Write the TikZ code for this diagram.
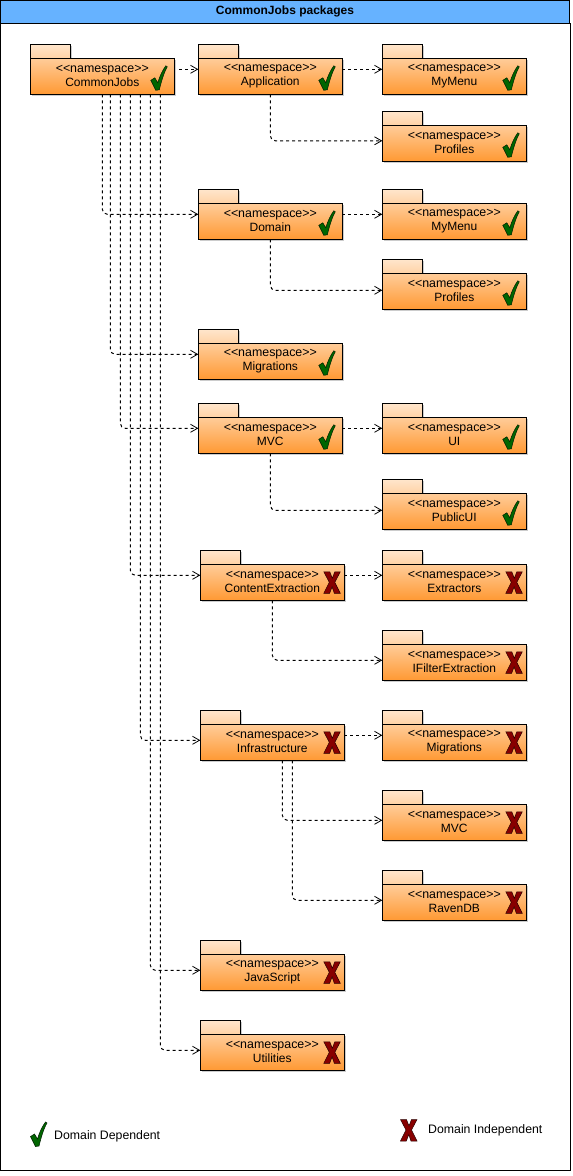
\documentclass[tikz,border=0pt]{standalone}
\usepackage{fontspec}
\setmainfont{Liberation Sans}
\usetikzlibrary{arrows.meta,shadows,calc}

\definecolor{titleblue}{HTML}{66B2FF}
\definecolor{okgreen}{HTML}{006600}
\definecolor{nored}{HTML}{880000}

\tikzset{
    pkgshadow/.style={general shadow={shadow xshift=2pt,shadow yshift=-2pt,fill=black!20}},
    pkgtab/.style={draw,line width=1pt,outer sep=0pt,inner sep=0pt,minimum width=40pt,minimum height=14pt,
        top color=orange!20!white,bottom color=orange!35!white,pkgshadow},
    pkgbody/.style={draw,line width=1pt,outer sep=0pt,inner sep=0pt,minimum width=144pt,minimum height=36pt,
        top color=orange!40!white,bottom color=orange!80!white,align=center,font=\fontsize{12}{14}\selectfont,pkgshadow},
    dep/.style={line width=1pt,dash pattern=on 3pt off 3pt,rounded corners=5pt,-{Straight Barb[length=7pt,width=8pt,line width=.8pt]}},
    okmark/.pic={\fill[okgreen,draw=black!70!okgreen,line width=.5pt] (0,14.5) -- (4,12) -- (7,17) .. controls (9,10) and (12,4) .. (15,0) -- (16.5,1) .. controls (13,7) and (10.5,16) .. (8.5,24) -- (5,24.5) -- cycle;},
    nomark/.pic={\fill[nored,draw=black!70!nored,line width=.5pt] (0,0) -- (6,0) -- (8.5,6.5) -- (11,0) -- (16.5,0) -- (11,10.5) -- (16.5,21.5) -- (10.5,21.5) -- (8.3,15) -- (5.8,21.5) -- (0,21.5) -- (5.5,10.5) -- cycle;},
}

\begin{document}
\begin{tikzpicture}[x=1pt,y=-1pt]
    \useasboundingbox (0,0) rectangle (573,1176);

    % frame and title bar
    \node[minimum width=569pt,minimum height=22.5pt,inner sep=0pt,outer sep=0pt,draw,line width=1pt,fill=titleblue,
        font=\bfseries\fontsize{12}{14}\selectfont,anchor=north west] (title) at (0.5,0.5) {CommonJobs packages};
    \coordinate (framecorner) at (570,1170);
    \draw[line width=1pt] (title.south west) |- (framecorner) |- (title.south east);

    % packages: name/left/top/label/mark/x of mark
    \foreach \n/\x/\y/\l/\m/\d in {
        common/30/44/CommonJobs/okmark/120.5,
        app/198/44/Application/okmark/120.5,
        appmenu/382/44/MyMenu/okmark/120.5,
        appprof/382/111/Profiles/okmark/120.5,
        domain/198/189/Domain/okmark/120.5,
        dommenu/382/189/MyMenu/okmark/120.5,
        domprof/382/259/Profiles/okmark/120.5,
        migr/198/329/Migrations/okmark/120.5,
        mvc/198/403/MVC/okmark/120.5,
        ui/382/403/UI/okmark/120.5,
        pubui/382/479/PublicUI/okmark/120.5,
        content/200/550/ContentExtraction/nomark/123.5,
        extr/382/550/Extractors/nomark/123.5,
        ifilter/382/630/IFilterExtraction/nomark/123.5,
        infra/200/710/Infrastructure/nomark/123.5,
        inmigr/382/710/Migrations/nomark/123.5,
        inmvc/382/790/MVC/nomark/123.5,
        raven/382/870/RavenDB/nomark/123.5,
        js/200/940/JavaScript/nomark/123.5,
        util/200/1020/Utilities/nomark/123.5} {
        \node[pkgtab,anchor=north west] (\n-tab) at (\x+0.3,\y+0.3) {};
        \node[pkgbody,anchor=north west] (\n) at (\n-tab.south west) {{\fontsize{12.4}{14}\selectfont <{}<namespace>{}>}\\\l};
        \coordinate (\n-in) at ([yshift=-11pt]\n.north west);
        \pic at ([xshift=\d pt,yshift=-7.5pt]\n.north west) {\m};
    }

    % from the root package
    \draw[dep] ([xshift=5pt]common.east |- app-in) -- (app-in);
    \foreach \n/\s/\o in {domain/72/0,migr/80/0,mvc/90/0,content/100/0,infra/110/5,js/120/5,util/130/5} {
        \draw[dep] ([xshift=\s pt]common.south west) |- ([yshift=-\o pt]\n-in);
    }

    % inside the packages
    \foreach \a/\b in {app/appmenu,domain/dommenu,mvc/ui,content/extr,infra/inmigr} {
        \draw[dep] (\a.east |- \b-in) -- (\b-in);
    }
    \foreach \a/\b/\s/\o in {app/appprof/72/4.5,domain/domprof/72/6,mvc/pubui/72/6,content/ifilter/72/5,infra/inmvc/82/5,infra/raven/92/5} {
        \draw[dep] ([xshift=\s pt]\a.south west) |- ([yshift=-\o pt]\b-in);
    }

    % legend
    \pic at (30.5,1122) {okmark};
    \node[anchor=west,font=\fontsize{12.3}{14}\selectfont,inner sep=0pt] (depnote) at (54,1136) {Domain Dependent};
    \pic at (400.5,1119.5) {nomark};
    \node[anchor=west,font=\fontsize{12.3}{14}\selectfont,inner sep=0pt] (indepnote) at (428,1130) {Domain Independent};
\end{tikzpicture}
\end{document}
